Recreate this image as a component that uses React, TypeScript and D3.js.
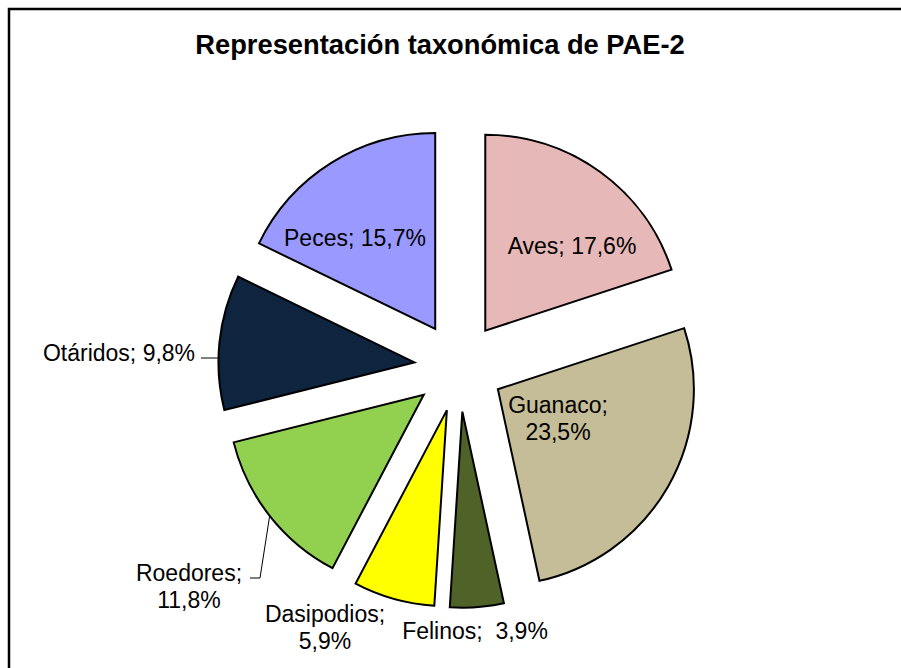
import React from "react";
import * as d3 from "d3";

const categories = ["Aves", "Guanaco", "Felinos", "Dasipodios", "Roedores", "Otáridos", "Peces"];
const percents = [17.6, 23.5, 3.9, 5.9, 11.8, 9.8, 15.7];
const colors = ["#E6B9B8", "#C4BD97", "#4F6228", "#FFFF00", "#92D050", "#0F243E", "#9999FF"];
const title = "Representación taxonómica de PAE-2";

// label layout: lines, center x, first baseline y, leader
const labelLayout: Record<string, { lines: string[]; x: number; y: number; leader?: [number, number][] }> = {
  Aves: { lines: ["Aves; 17,6%"], x: 572, y: 254 },
  Guanaco: { lines: ["Guanaco;", "23,5%"], x: 558, y: 413 },
  Felinos: { lines: ["Felinos;  3,9%"], x: 475, y: 639 },
  Dasipodios: { lines: ["Dasipodios;", "5,9%"], x: 325, y: 622 },
  Roedores: { lines: ["Roedores;", "11,8%"], x: 189, y: 581, leader: [[250, 578], [260, 578]] },
  "Otáridos": { lines: ["Otáridos; 9,8%"], x: 119, y: 361, leader: [[201, 358], [215, 358]] },
  Peces: { lines: ["Peces; 15,7%"], x: 355, y: 246 },
};

export default function App() {
  const W = 901, H = 668;
  const cx = 459, cy = 367, R = 196, explode = 44.8;
  const pie = d3.pie<number>().sort(null).value((d) => d)(percents);
  const arc = d3.arc<d3.PieArcDatum<number>>().innerRadius(0).outerRadius(R);
  const font = "Liberation Sans, Arial, sans-serif";

  return (
    <svg width={W} height={H} style={{ position: "absolute", left: 0, top: 0, background: "#fff" }}>
      <rect x={0} y={0} width={W} height={H} fill="#fff" />
      <rect x={9} y={9} width={915} height={690} fill="none" stroke="#000" strokeWidth={2.5} />
      <text x={440} y={54} textAnchor="middle" fontFamily={font} fontWeight="bold" fontSize={27.3}>
        {title}
      </text>
      {pie.map((p, i) => {
        const mid = (p.startAngle + p.endAngle) / 2;
        const dx = explode * Math.sin(mid);
        const dy = -explode * Math.cos(mid);
        return (
          <g key={categories[i]} transform={`translate(${cx + dx},${cy + dy})`}>
            <path d={arc(p) || ""} fill={colors[i]} stroke="#000" strokeWidth={2} strokeLinejoin="miter" />
          </g>
        );
      })}
      {pie.map((p, i) => {
        const name = categories[i];
        const L = labelLayout[name];
        const mid = (p.startAngle + p.endAngle) / 2;
        const vx = cx + explode * Math.sin(mid);
        const vy = cy - explode * Math.cos(mid);
        let leaderPath = "";
        if (L.leader) {
          const last = L.leader[L.leader.length - 1];
          let end: [number, number];
          if (name === "Otáridos") {
            const ddy = last[1] - vy;
            const ddx = -Math.sqrt(R * R - ddy * ddy);
            end = [vx + ddx, last[1]];
          } else {
            end = [vx + R * Math.sin(mid), vy - R * Math.cos(mid)];
          }
          const pts = [...L.leader, end];
          leaderPath = d3.line()(pts as [number, number][]) || "";
        }
        return (
          <g key={"l" + name}>
            {leaderPath && <path d={leaderPath} fill="none" stroke="#000" strokeWidth={1} />}
            <text x={L.x} y={L.y} textAnchor="middle" fontFamily={font} fontSize={23} fill="#000" style={{ whiteSpace: "pre" }}>
              {L.lines.map((ln, j) => (
                <tspan key={j} x={L.x} dy={j === 0 ? 0 : 26.5}>
                  {ln}
                </tspan>
              ))}
            </text>
          </g>
        );
      })}
    </svg>
  );
}
